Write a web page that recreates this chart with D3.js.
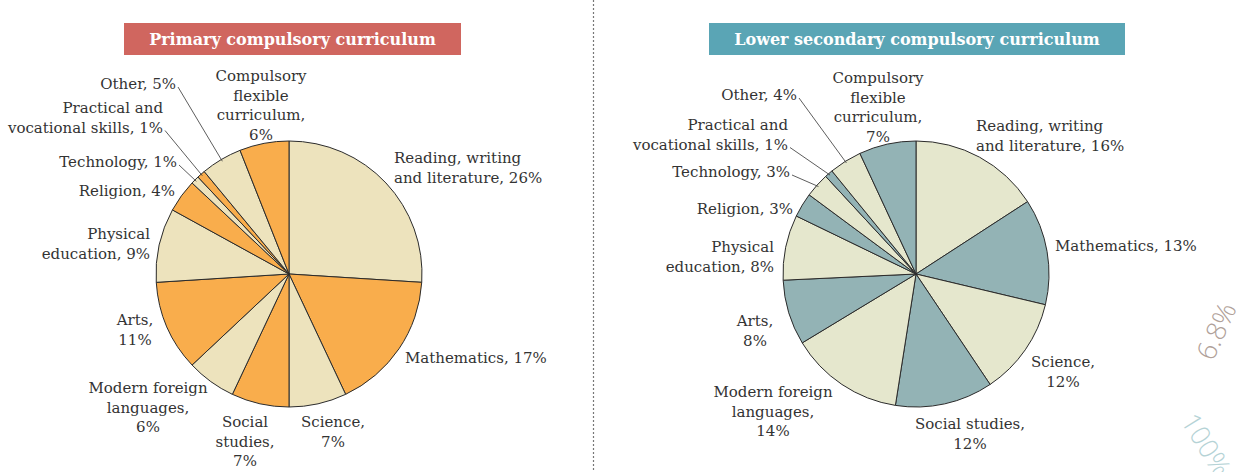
<!DOCTYPE html>
<html>
<head>
<meta charset="utf-8">
<script src="https://cdn.jsdelivr.net/npm/d3@7"></script>
<style>
  body { margin: 0; background: #fff; }
  text { font-family: 'DejaVu Serif', serif; fill: #333; }
</style>
</head>
<body>
<div id="chart"></div>
<script>
// subjects, clockwise from 12 o'clock
const subjects = ['Reading, writing and literature', 'Mathematics', 'Science', 'Social studies',
  'Modern foreign languages', 'Arts', 'Physical education', 'Religion', 'Technology',
  'Practical and vocational skills', 'Other', 'Compulsory flexible curriculum'];
const primaryShare = [26, 17, 7, 7, 6, 11, 9, 4, 1, 1, 5, 6];
const lowerSecShare = [16, 13, 12, 12, 14, 8, 8, 3, 3, 1, 4, 7];

// label text split in lines (%) is appended from the values
const primaryLines = [['Reading, writing', 'and literature, '], ['Mathematics, '], ['Science,', ''],
  ['Social', 'studies,', ''], ['Modern foreign', 'languages,', ''], ['Arts,', ''], ['Physical', 'education, '],
  ['Religion, '], ['Technology, '], ['Practical and', 'vocational skills, '], ['Other, '],
  ['Compulsory', 'flexible', 'curriculum,', '']];
const lowerLines = [['Reading, writing', 'and literature, '], ['Mathematics, '], ['Science,', ''],
  ['Social studies,', ''], ['Modern foreign', 'languages,', ''], ['Arts,', ''], ['Physical', 'education, '],
  ['Religion, '], ['Technology, '], ['Practical and', 'vocational skills, '], ['Other, '],
  ['Compulsory', 'flexible', 'curriculum,', '']];

// layout: label offset from pie centre [dx, dy(first baseline), anchor, leader?]
const primaryLabelPos = [[105, -111, 'start'], [116, 89, 'start'], [44, 153, 'middle'], [-44, 153, 'middle'],
  [-141, 119, 'middle'], [-154, 51, 'middle'], [-139, -35, 'end'], [-114, -78, 'end'], [-112, -107, 'end', 1],
  [-126, -161, 'end', 1], [-113, -185, 'end', 1], [-28, -193, 'middle']];
const lowerLabelPos = [[60, -143, 'start'], [139, -23, 'start'], [147, 93, 'middle'], [54, 155, 'middle'],
  [-143, 123, 'middle'], [-161, 52, 'middle'], [-142, -22, 'end'], [-123, -60, 'end'], [-126, -97, 'end', 1],
  [-128, -144, 'end', 1], [-119, -174, 'end', 1], [-38, -191, 'middle']];

const svgwidth = 1239;
const svgheight = 472;
const radius = 133;
const lineH = 19.5;

const svg = d3.select('#chart').append('svg')
  .attr('width', svgwidth)
  .attr('height', svgheight);

// dotted divider
svg.append('line')
  .attr('x1', 593.5).attr('x2', 593.5)
  .attr('y1', 0).attr('y2', svgheight)
  .attr('stroke', '#777')
  .attr('stroke-width', 1.2)
  .attr('stroke-dasharray', '2,2');

function drawPie(cfg) {
  const g = svg.append('g').attr('transform', `translate(${cfg.cx},${cfg.cy})`);
  const pie = d3.pie().sort(null).value(d => d)(cfg.values);
  const arc = d3.arc().innerRadius(0).outerRadius(radius);

  // title box
  const title = svg.append('g');
  title.append('rect')
    .attr('x', cfg.titleBox[0]).attr('y', 23)
    .attr('width', cfg.titleBox[1] - cfg.titleBox[0]).attr('height', 32)
    .attr('fill', cfg.titleColor);
  title.append('text')
    .attr('x', (cfg.titleBox[0] + cfg.titleBox[1]) / 2).attr('y', 45)
    .attr('text-anchor', 'middle')
    .attr('font-size', '16px')
    .attr('font-weight', 'bold')
    .style('fill', '#fff')
    .text(cfg.title);

  g.selectAll('path.slice')
    .data(pie)
    .enter()
    .append('path')
    .attr('class', 'slice')
    .attr('d', arc)
    .attr('fill', (d, i) => cfg.colors[i % 2])
    .attr('stroke', '#2b2b2b')
    .attr('stroke-width', 1);

  pie.forEach((d, i) => {
    const pos = cfg.labelPos[i];
    const lines = cfg.lines[i].slice();
    lines[lines.length - 1] += `${d.data}%`;
    const t = g.append('text')
      .attr('text-anchor', pos[2])
      .attr('font-size', '15px');
    lines.forEach((l, k) => {
      t.append('tspan').attr('x', pos[0]).attr('y', pos[1] + k * lineH).text(l);
    });
    if (pos[3]) {
      const mid = (d.startAngle + d.endAngle) / 2;
      const lastY = pos[1] + (lines.length - 1) * lineH;
      g.append('line')
        .attr('x1', pos[0] + 2).attr('y1', lastY - 2)
        .attr('x2', Math.sin(mid) * (radius - 2)).attr('y2', -Math.cos(mid) * (radius - 2))
        .attr('stroke', '#333')
        .attr('stroke-width', 0.8);
    }
  });
}

drawPie({
  cx: 289, cy: 274, values: primaryShare, lines: primaryLines, labelPos: primaryLabelPos,
  colors: ['#ede3bd', '#f9ad4c'], title: 'Primary compulsory curriculum',
  titleColor: '#d0665f', titleBox: [124, 461]
});
drawPie({
  cx: 916, cy: 274, values: lowerSecShare, lines: lowerLines, labelPos: lowerLabelPos,
  colors: ['#e5e7cd', '#93b3b5'], title: 'Lower secondary compulsory curriculum',
  titleColor: '#5aa5b5', titleBox: [709, 1125]
});

// fragments of neighbouring graphic at the right edge (cut by the page edge in the original)
svg.append('text')
  .attr('transform', 'translate(1213,362) rotate(-66)')
  .attr('font-size', '27px')
  .style('font-family', 'Open Sans, sans-serif')
  .style('font-weight', 300)
  .style('fill', '#b0a199')
  .text('6.8%');
svg.append('text')
  .attr('transform', 'translate(1180,421) rotate(58)')
  .attr('font-size', '27px')
  .style('font-family', 'Open Sans, sans-serif')
  .style('font-weight', 300)
  .style('fill', '#b5d3d6')
  .text('100%');
</script>
</body>
</html>
